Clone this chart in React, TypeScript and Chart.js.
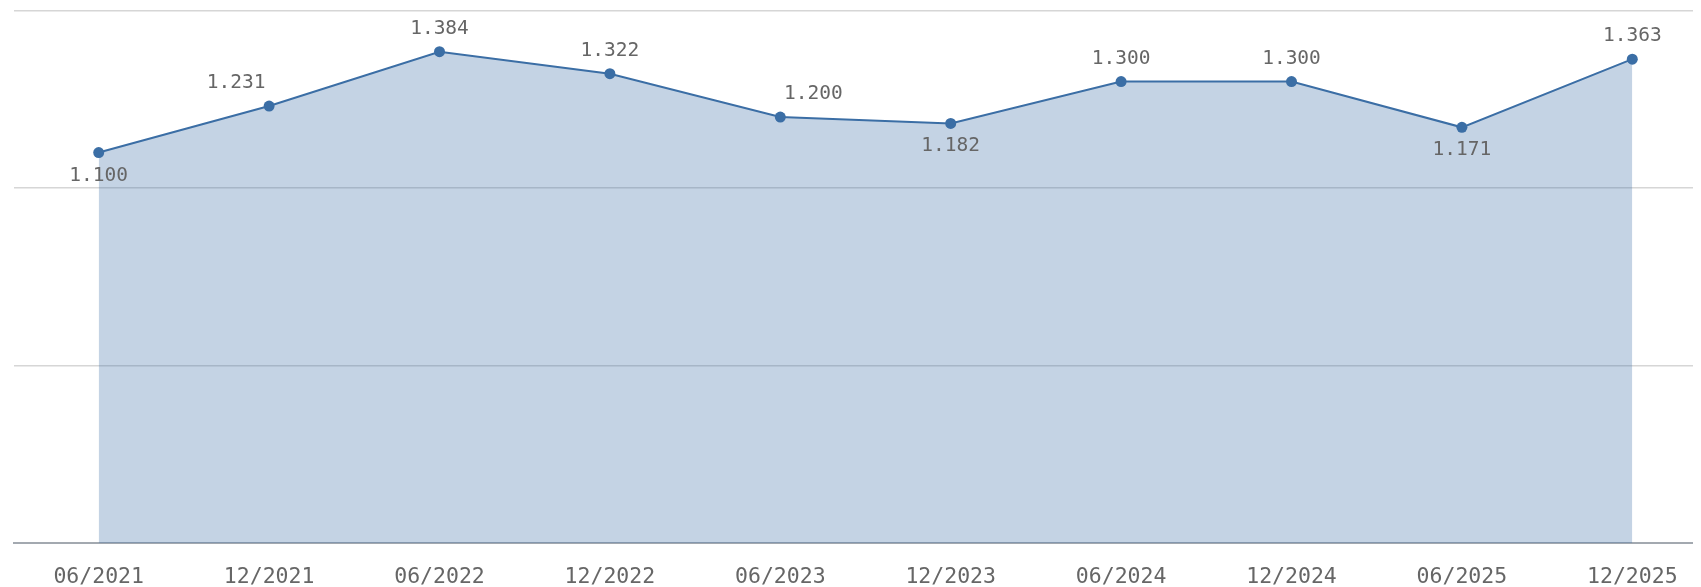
import React, { useEffect, useRef } from "react";
import { Chart, registerables } from "chart.js";

Chart.register(...registerables);

const categories = ["06/2021", "12/2021", "06/2022", "12/2022", "06/2023", "12/2023", "06/2024", "12/2024", "06/2025", "12/2025"];
const values = [1.1, 1.231, 1.384, 1.322, 1.2, 1.182, 1.3, 1.3, 1.171, 1.363];
const yTicks = [0, 0.5, 1, 1.5];

const LINE = "#3b6ea5";
const FILL = "rgba(59,110,165,0.3)";
const TEXT = "#666666";
const FONT = "'DejaVu Sans Mono', monospace";

const labelPlugin = {
  id: "pointLabels",
  afterDatasetsDraw(chart: any) {
    const ctx = chart.ctx;
    const meta = chart.getDatasetMeta(0);
    const data = chart.data.datasets[0].data as number[];
    ctx.save();
    ctx.font = `19.5px ${FONT}`;
    ctx.fillStyle = TEXT;
    ctx.textAlign = "center";
    ctx.textBaseline = "middle";
    meta.data.forEach((pt: any, i: number) => {
      const v = data[i];
      const prev = i > 0 ? data[i - 1] : null;
      const next = i < data.length - 1 ? data[i + 1] : null;
      let dx = 0;
      let dy = -23;
      const trough = (prev === null || v < prev) && (next === null || next > v);
      if (trough) {
        dy = 23;
      } else if (next !== null && next - v > 0.1) {
        dx = -33;
      } else if (prev !== null && prev - v > 0.1) {
        dx = 33;
      }
      ctx.fillText(v.toFixed(3), pt.x + dx, pt.y + dy);
    });
    ctx.restore();
  },
};

export default function App() {
  const ref = useRef<HTMLCanvasElement | null>(null);
  useEffect(() => {
    if (!ref.current) return;
    const chart = new Chart(ref.current, {
      type: "line",
      data: {
        labels: categories,
        datasets: [
          {
            data: values,
            borderColor: LINE,
            backgroundColor: FILL,
            fill: "origin",
            borderWidth: 2,
            pointRadius: 5.5,
            pointBackgroundColor: LINE,
            pointBorderColor: LINE,
            pointBorderWidth: 0,
            tension: 0,
          },
        ],
      },
      options: {
        animation: false,
        responsive: false,
        maintainAspectRatio: false,
        layout: { padding: { left: 4, right: 2, top: 0, bottom: 0 } },
        plugins: { legend: { display: false }, tooltip: { enabled: false } },
        scales: {
          x: {
            offset: true,
            grid: { display: false, drawTicks: false },
            border: { display: true, color: "#a3a9b0", width: 2 },
            ticks: {
              padding: 21,
              color: TEXT,
              font: { family: FONT, size: 21.5 },
              maxRotation: 0,
              autoSkip: false,
            },
          },
          y: {
            min: 0,
            max: 1.5,
            afterBuildTicks: (axis: any) => {
              axis.ticks = yTicks.map((v) => ({ value: v }));
            },
            grid: { color: "#d6d6d6", lineWidth: 1.5, drawTicks: false },
            border: { display: false },
            ticks: { display: false },
          },
        },
      },
      plugins: [labelPlugin],
    });
    return () => chart.destroy();
  }, []);
  return (
    <div style={{ position: "relative", width: 1693, height: 579, overflow: "hidden" }}>
      <div style={{ position: "absolute", left: -6, top: -8, width: 0, height: 600, borderLeft: "3px dotted #ececec" }} />
      <canvas ref={ref} width={1715} height={606} style={{ display: "block", width: 1715, height: 606, marginTop: -3 }} />
    </div>
  );
}
